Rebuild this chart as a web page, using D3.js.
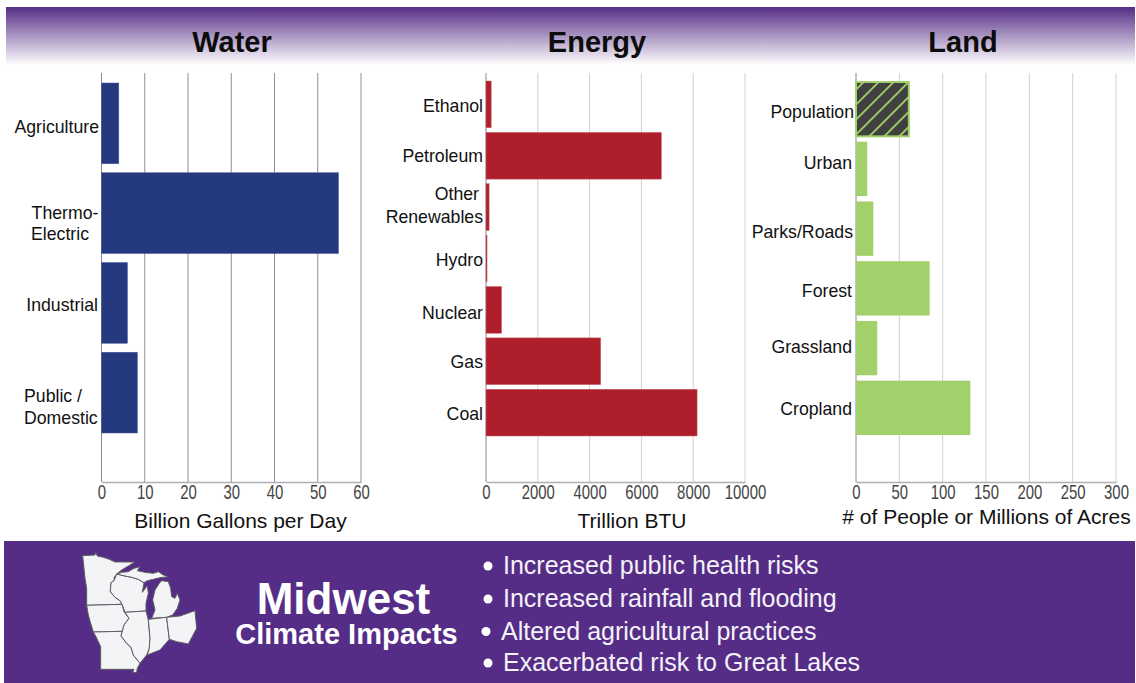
<!DOCTYPE html>
<html>
<head>
<meta charset="utf-8">
<script src="https://cdn.jsdelivr.net/npm/d3@7"></script>
<style>
  html, body { margin: 0; padding: 0; background: #fff; }
  svg { display: block; font-family: "Liberation Sans", Arial, sans-serif; }
</style>
</head>
<body>
<div id="chart"></div>
<script>
// Water withdrawals
var water_labels = ["Agriculture", "Thermo-Electric", "Industrial", "Public / Domestic"];
var water_values = [4, 54.8, 6, 8.3];
var water_ticks = [0, 10, 20, 30, 40, 50, 60];

// Energy use
var energy_labels = ["Ethanol", "Petroleum", "Other Renewables", "Hydro", "Nuclear", "Gas", "Coal"];
var energy_values = [200, 6770, 120, 40, 600, 4430, 8150];
var energy_ticks = [0, 2000, 4000, 6000, 8000, 10000];

// Land use, first row is people
var land_labels = ["Population", "Urban", "Parks/Roads", "Forest", "Grassland", "Cropland"];
var land_values = [61, 13, 20, 85, 24.5, 132];
var land_ticks = [0, 50, 100, 150, 200, 250, 300];

var impacts = [
  "Increased public health risks",
  "Increased rainfall and flooding",
  "Altered agricultural practices",
  "Exacerbated risk to Great Lakes"
];

// state outlines for the little map, drawn at 3x and scaled down
var states = [
  [[68,47],[105,45],[107,37],[112,48],[130,52],[148,58],[165,66],[185,66],[225,66],[205,78],[185,90],[170,102],[163,112],[162,122],[153,128],[151,155],[165,172],[180,182],[186,193],[80,196],[80,145],[75,115],[72,85]],
  [[162,122],[170,102],[195,108],[215,112],[235,118],[252,128],[247,157],[262,137],[265,160],[258,190],[258,213],[195,217],[186,193],[180,182],[165,172],[151,155],[153,128]],
  [[170,102],[185,97],[205,95],[222,85],[240,80],[232,92],[255,97],[280,100],[295,95],[310,105],[325,110],[300,113],[280,118],[262,122],[252,128],[235,118],[215,112],[195,108]],
  [[285,150],[298,130],[305,122],[325,125],[332,145],[335,170],[345,175],[352,160],[360,180],[352,205],[338,225],[320,232],[275,235],[285,210],[278,180]],
  [[80,196],[186,193],[192,215],[207,235],[192,255],[187,274],[100,276],[92,250],[85,225]],
  [[100,276],[187,274],[183,288],[200,310],[213,322],[220,345],[240,370],[232,385],[230,397],[218,398],[222,388],[122,388],[122,320],[108,290]],
  [[195,217],[258,213],[265,240],[270,295],[268,325],[260,345],[240,370],[220,345],[213,322],[200,310],[183,288],[192,255],[207,235]],
  [[265,238],[320,232],[328,298],[300,330],[262,345],[268,325],[270,295]],
  [[320,232],[360,228],[405,212],[410,265],[385,312],[350,305],[328,298]]
];

var width = 1136, height = 683;
var purple = "#552d86";
var axis_top = 73, axis_bottom = 482;
var impact_rows = [574, 607, 639.5, 671];

var svg = d3.select("#chart").append("svg")
    .attr("width", width)
    .attr("height", height);

var defs = svg.append("defs");

var grad = defs.append("linearGradient")
    .attr("id", "header_fade")
    .attr("x1", 0).attr("y1", 0).attr("x2", 0).attr("y2", 1);
grad.append("stop").attr("offset", "0%").attr("stop-color", purple);
grad.append("stop").attr("offset", "100%").attr("stop-color", "#ffffff");

var hatch = defs.append("pattern")
    .attr("id", "people_hatch")
    .attr("patternUnits", "userSpaceOnUse")
    .attr("width", 10.6).attr("height", 10.6)
    .attr("patternTransform", "rotate(45)");
hatch.append("rect").attr("width", 10.6).attr("height", 10.6).attr("fill", "#404040");
hatch.append("rect").attr("width", 1.8).attr("height", 10.6).attr("fill", "#a2d06a");

svg.append("rect")
    .attr("x", 6).attr("y", 7)
    .attr("width", 1129).attr("height", 58)
    .attr("fill", "url(#header_fade)");

function draw_panel(opts) {
  var x = d3.scaleLinear()
      .domain([0, opts.ticks[opts.ticks.length - 1]])
      .range(opts.x_range);

  var y = d3.scaleBand()
      .domain(opts.labels)
      .range(opts.y_range)
      .paddingInner(opts.gap);

  var g = svg.append("g");

  // vertical grid
  g.selectAll(".grid")
    .data(opts.ticks)
    .enter()
    .append("line")
    .attr("x1", function(d) { return x(d); })
    .attr("x2", function(d) { return x(d); })
    .attr("y1", axis_top)
    .attr("y2", axis_bottom)
    .attr("stroke", function(d) { return d == 0 ? "#8a8a8e" : opts.grid_color; })
    .attr("stroke-width", 1);

  var x_axis = g.append("g")
      .attr("transform", "translate(0," + axis_bottom + ")")
      .call(d3.axisBottom(x).tickValues(opts.ticks).tickSize(0).tickPadding(2).tickFormat(d3.format("d")));

  x_axis.select(".domain").attr("stroke", "#b0b0b4").attr("stroke-width", 1.5);
  x_axis.selectAll("text")
      .attr("fill", "#444")
      .attr("font-size", 21)
      .attr("dy", "0.72em")
      .attr("transform", "scale(0.71,1)");

  g.selectAll(".bar")
    .data(opts.labels)
    .enter()
    .append("rect")
    .attr("x", x(0))
    .attr("y", function(d) { return y(d); })
    .attr("width", function(d, i) { return x(opts.values[i]) - x(0); })
    .attr("height", y.bandwidth())
    .attr("fill", function(d, i) { return opts.bar_fill(i); })
    .attr("stroke", function(d, i) { return opts.bar_stroke(i); })
    .attr("stroke-width", function(d, i) { return opts.bar_stroke_width(i); });

  // category labels, some of them wrap onto two lines
  opts.labels.forEach(function(d) {
    var spot = opts.label_spots[d];
    var text = g.append("text")
        .attr("font-size", 17.7)
        .attr("fill", "#111")
        .attr("text-anchor", spot.anchor || "end");
    spot.lines.forEach(function(line) {
      text.append("tspan")
          .attr("x", line.x)
          .attr("y", line.y)
          .text(line.text);
    });
  });

  svg.append("text")
      .attr("x", opts.title_x)
      .attr("y", 52)
      .attr("text-anchor", "middle")
      .attr("font-size", 29)
      .attr("font-weight", "bold")
      .attr("fill", "#0c0c0c")
      .text(opts.title);

  svg.append("text")
      .attr("x", opts.unit_x)
      .attr("y", opts.unit_y)
      .attr("text-anchor", "middle")
      .attr("font-size", 21)
      .attr("fill", "#111")
      .text(opts.unit);
}

function one_color(c) { return function() { return c; }; }

draw_panel({
  title: "Water", title_x: 232,
  unit: "Billion Gallons per Day", unit_x: 240.5, unit_y: 528,
  labels: water_labels, values: water_values, ticks: water_ticks,
  x_range: [101.5, 361], y_range: [83, 433], gap: 0.1,
  grid_color: "#8f8f96",
  bar_fill: one_color("#25397f"), bar_stroke: one_color("#4a5a96"), bar_stroke_width: one_color(0.5),
  label_spots: {
    "Agriculture": {lines: [{text: "Agriculture", x: 99, y: 133}]},
    "Thermo-Electric": {anchor: "middle", lines: [{text: "Thermo-", x: 65, y: 219}, {text: "Electric", x: 60, y: 240}]},
    "Industrial": {lines: [{text: "Industrial", x: 98, y: 311}]},
    "Public / Domestic": {anchor: "start", lines: [{text: "Public /", x: 24, y: 402}, {text: "Domestic", x: 24, y: 424}]}
  }
});

draw_panel({
  title: "Energy", title_x: 597,
  unit: "Trillion BTU", unit_x: 632, unit_y: 528,
  labels: energy_labels, values: energy_values, ticks: energy_ticks,
  x_range: [486, 745], y_range: [81, 436], gap: 0.09,
  grid_color: "#d0d0d0",
  bar_fill: one_color("#ae1f2b"), bar_stroke: one_color("#c9656c"), bar_stroke_width: one_color(0.5),
  label_spots: {
    "Ethanol": {lines: [{text: "Ethanol", x: 483, y: 112}]},
    "Petroleum": {lines: [{text: "Petroleum", x: 483, y: 162}]},
    "Other Renewables": {lines: [{text: "Other", x: 479, y: 200}, {text: "Renewables", x: 483, y: 223}]},
    "Hydro": {lines: [{text: "Hydro", x: 483, y: 266}]},
    "Nuclear": {lines: [{text: "Nuclear", x: 483, y: 319}]},
    "Gas": {lines: [{text: "Gas", x: 483, y: 368}]},
    "Coal": {lines: [{text: "Coal", x: 483, y: 420}]}
  }
});

draw_panel({
  title: "Land", title_x: 963,
  unit: "# of People or Millions of Acres", unit_x: 986.5, unit_y: 524,
  labels: land_labels, values: land_values, ticks: land_ticks,
  x_range: [856, 1116], y_range: [82, 435], gap: 0.09,
  grid_color: "#d0d0d0",
  bar_fill: function(i) { return i == 0 ? "url(#people_hatch)" : "#a2d06a"; },
  bar_stroke: one_color("#a2d06a"),
  bar_stroke_width: function(i) { return i == 0 ? 2 : 0; },
  label_spots: {
    "Population": {lines: [{text: "Population", x: 854, y: 118}]},
    "Urban": {lines: [{text: "Urban", x: 852, y: 169}]},
    "Parks/Roads": {lines: [{text: "Parks/Roads", x: 853, y: 238}]},
    "Forest": {lines: [{text: "Forest", x: 852, y: 297}]},
    "Grassland": {lines: [{text: "Grassland", x: 852, y: 353}]},
    "Cropland": {lines: [{text: "Cropland", x: 852, y: 415}]}
  }
});

// bottom banner
var banner = svg.append("g");

banner.append("rect")
    .attr("x", 4).attr("y", 541)
    .attr("width", 1131).attr("height", 142)
    .attr("fill", purple);

var state_line = d3.line().curve(d3.curveLinearClosed);

banner.append("g")
    .attr("transform", "translate(60,540) scale(0.3333)")
  .selectAll("path")
  .data(states)
  .enter()
  .append("path")
    .attr("d", state_line)
    .attr("fill", "#f3f4f6")
    .attr("stroke", "#5c5c60")
    .attr("stroke-width", 3)
    .attr("stroke-linejoin", "round");

banner.append("text")
    .attr("x", 343.5).attr("y", 614)
    .attr("text-anchor", "middle")
    .attr("font-size", 44)
    .attr("font-weight", "bold")
    .attr("fill", "#fff")
    .text("Midwest");

banner.append("text")
    .attr("x", 346.5).attr("y", 644)
    .attr("text-anchor", "middle")
    .attr("font-size", 29)
    .attr("font-weight", "bold")
    .attr("fill", "#fff")
    .text("Climate Impacts");

var rows = banner.selectAll(".impact")
    .data(impacts)
    .enter()
    .append("g")
    .attr("transform", function(d, i) { return "translate(0," + impact_rows[i] + ")"; });

rows.append("circle")
    .attr("cx", function(d, i) { return i == 2 ? 486 : 488; })
    .attr("cy", -8)
    .attr("r", 4.5)
    .attr("fill", "#fff");

rows.append("text")
    .attr("x", function(d, i) { return i == 2 ? 501 : 503; })
    .attr("font-size", 25)
    .attr("fill", "#f4f2f8")
    .text(function(d) { return d; });
</script>
</body>
</html>
